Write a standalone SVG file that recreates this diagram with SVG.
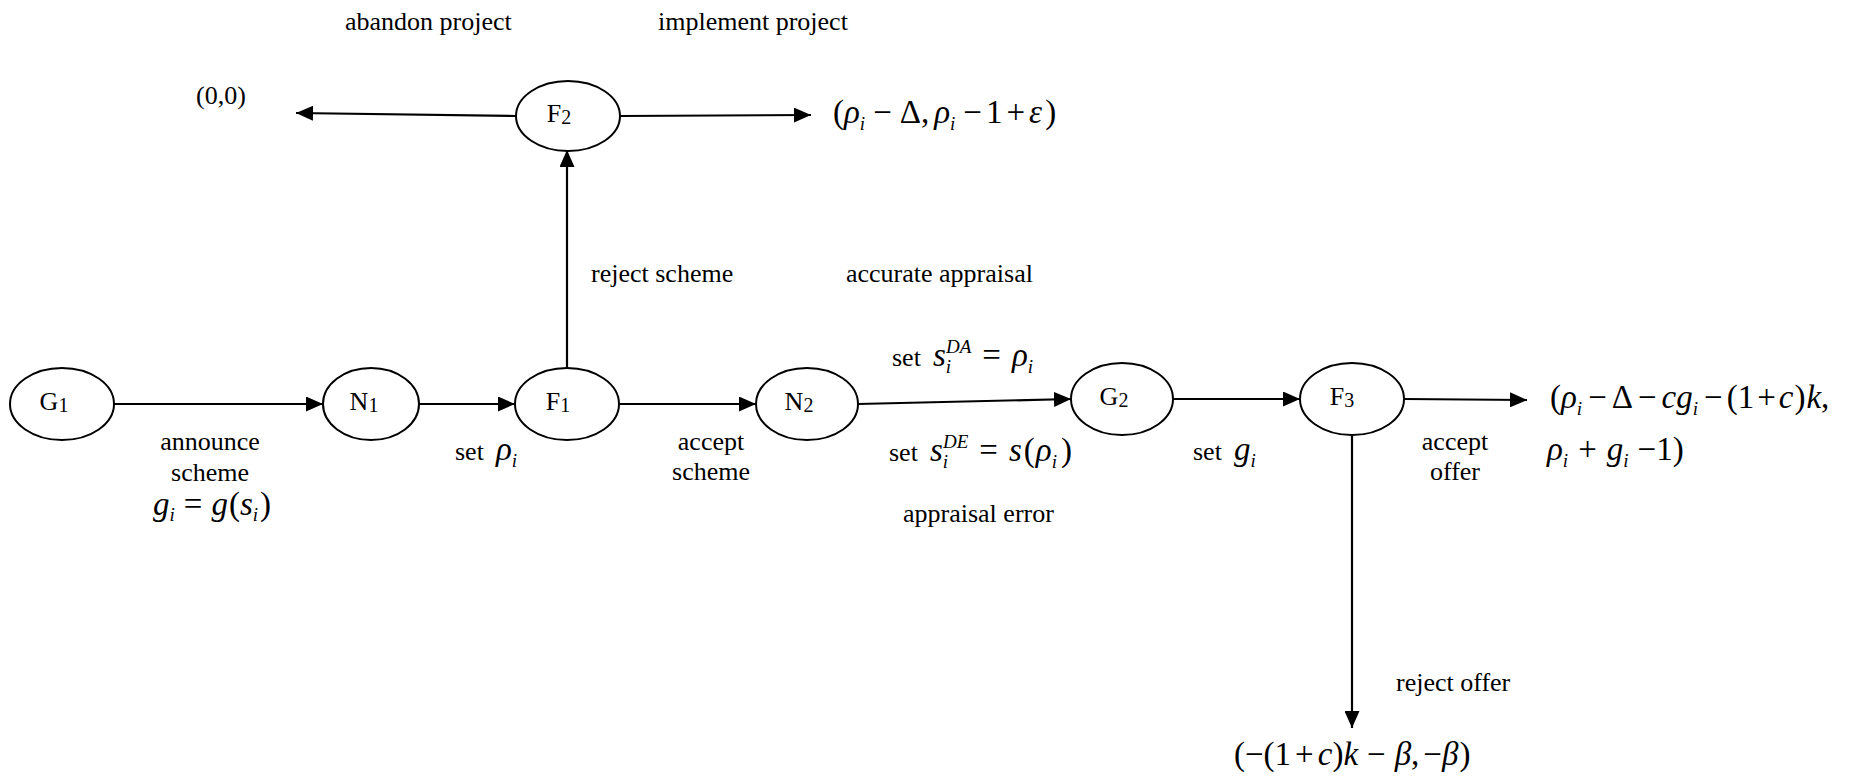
<svg xmlns="http://www.w3.org/2000/svg" width="1858" height="777" viewBox="0 0 1858 777">
<style>
.t{font-family:"Liberation Serif","Times New Roman",serif;font-size:26px;fill:#000}
.m{font-family:"Liberation Serif","Times New Roman",serif;font-size:33px;fill:#000}
.it{font-style:italic}
.sb{font-size:19px}
.ns{font-size:20px}
.node ellipse{fill:#fff;stroke:#000;stroke-width:2}
.edge{stroke:#000;stroke-width:2.2;fill:none;marker-end:url(#ah)}
</style>
<defs>
<marker id="ah" markerUnits="userSpaceOnUse" markerWidth="17" markerHeight="15" refX="17" refY="7.5" orient="auto">
<path d="M0,0 L17,7.5 L0,15 z" fill="#000"/>
</marker>
</defs>

<g id="connectors">
<line class="edge" x1="114" y1="404" x2="323" y2="404"/>
<line class="edge" x1="419" y1="404" x2="515" y2="404"/>
<line class="edge" x1="619" y1="404" x2="756" y2="404"/>
<line class="edge" x1="858" y1="404" x2="1071" y2="399"/>
<line class="edge" x1="1173" y1="399" x2="1300" y2="399"/>
<line class="edge" x1="1404" y1="399" x2="1527" y2="400"/>
<line class="edge" x1="567" y1="368" x2="567" y2="150"/>
<line class="edge" x1="516" y1="116" x2="296" y2="113"/>
<line class="edge" x1="620" y1="116" x2="811" y2="115"/>
<line class="edge" x1="1352" y1="435" x2="1352" y2="728"/>
</g>

<g id="G1" class="node"><ellipse cx="62" cy="404" rx="52" ry="36"/><text class="t" x="54" y="410" text-anchor="middle">G<tspan class="ns" dy="2">1</tspan></text></g>
<g id="N1" class="node"><ellipse cx="371" cy="404" rx="48" ry="36"/><text class="t" x="364" y="410" text-anchor="middle">N<tspan class="ns" dy="2">1</tspan></text></g>
<g id="F1" class="node"><ellipse cx="567" cy="404" rx="52" ry="36"/><text class="t" x="558" y="410" text-anchor="middle">F<tspan class="ns" dy="2">1</tspan></text></g>
<g id="F2" class="node"><ellipse cx="568" cy="116" rx="52" ry="35"/><text class="t" x="559" y="122" text-anchor="middle">F<tspan class="ns" dy="2">2</tspan></text></g>
<g id="N2" class="node"><ellipse cx="807" cy="404" rx="51" ry="36"/><text class="t" x="799" y="410" text-anchor="middle">N<tspan class="ns" dy="2">2</tspan></text></g>
<g id="G2" class="node"><ellipse cx="1122" cy="399" rx="51" ry="36"/><text class="t" x="1114" y="405" text-anchor="middle">G<tspan class="ns" dy="2">2</tspan></text></g>
<g id="F3" class="node"><ellipse cx="1352" cy="399" rx="52" ry="36"/><text class="t" x="1342" y="405" text-anchor="middle">F<tspan class="ns" dy="2">3</tspan></text></g>

<g id="labels">
<text class="t" x="345" y="30">abandon project</text>
<text class="t" x="658" y="30">implement project</text>
<text class="t" x="196" y="104">(0,0)</text>
<text class="t" x="591" y="282">reject scheme</text>
<text class="t" x="846" y="282">accurate appraisal</text>
<text class="t" x="210" y="450" text-anchor="middle">announce</text>
<text class="t" x="210" y="481" text-anchor="middle">scheme</text>
<text class="t" x="711" y="450" text-anchor="middle">accept</text>
<text class="t" x="711" y="480" text-anchor="middle">scheme</text>
<text class="t" x="903" y="522">appraisal error</text>
<text class="t" x="1455" y="450" text-anchor="middle">accept</text>
<text class="t" x="1455" y="480" text-anchor="middle">offer</text>
<text class="t" x="1396" y="691">reject offer</text>

<text class="m" x="153" y="515"><tspan class="it">g</tspan><tspan class="sb it" dy="6">i</tspan><tspan dy="-6" dx="9">=</tspan><tspan class="it" dx="9">g</tspan><tspan dx="1">(</tspan><tspan class="it">s</tspan><tspan class="sb it" dy="6">i</tspan><tspan dy="-6" dx="2">)</tspan></text>

<text class="t" x="455" y="460">set<tspan class="m it" dx="12">ρ</tspan><tspan class="sb it" dy="7">i</tspan></text>

<text class="t" x="892" y="366">set<tspan class="m it" dx="12">s</tspan><tspan class="sb it" dy="7">i</tspan><tspan class="sb it" dx="-5" dy="-20">DA</tspan><tspan class="m" dx="11" dy="13">=</tspan><tspan class="m it" dx="11">ρ</tspan><tspan class="sb it" dy="7">i</tspan></text>

<text class="t" x="889" y="461">set<tspan class="m it" dx="12">s</tspan><tspan class="sb it" dy="7">i</tspan><tspan class="sb it" dx="-5" dy="-20">DE</tspan><tspan class="m" dx="11" dy="13">=</tspan><tspan class="m it" dx="11">s</tspan><tspan class="m" dx="2">(</tspan><tspan class="m it" dx="1">ρ</tspan><tspan class="sb it" dy="7">i</tspan><tspan class="m" dy="-7" dx="4">)</tspan></text>

<text class="t" x="1193" y="460">set<tspan class="m it" dx="12">g</tspan><tspan class="sb it" dy="7">i</tspan></text>

<text class="m" x="833" y="123">(<tspan class="it">ρ</tspan><tspan class="sb it" dy="7">i</tspan><tspan dy="-7" dx="8">−</tspan><tspan dx="8">Δ,</tspan><tspan class="it" dx="5">ρ</tspan><tspan class="sb it" dy="7">i</tspan><tspan dy="-7" dx="8">−</tspan><tspan dx="4">1</tspan><tspan dx="4">+</tspan><tspan class="it" dx="4">ε</tspan><tspan dx="3">)</tspan></text>

<text class="m" x="1550" y="408">(<tspan class="it">ρ</tspan><tspan class="sb it" dy="7">i</tspan><tspan dy="-7" dx="6">−</tspan><tspan dx="5">Δ</tspan><tspan dx="5">−</tspan><tspan class="it" dx="5">cg</tspan><tspan class="sb it" dy="7">i</tspan><tspan dy="-7" dx="6">−</tspan><tspan dx="4">(1</tspan><tspan dx="3">+</tspan><tspan class="it" dx="3">c</tspan><tspan dx="1">)</tspan><tspan class="it" dx="1">k</tspan>,</text>

<text class="m" x="1547" y="460"><tspan class="it">ρ</tspan><tspan class="sb it" dy="7">i</tspan><tspan dy="-7" dx="10">+</tspan><tspan class="it" dx="10">g</tspan><tspan class="sb it" dy="7">i</tspan><tspan dy="-7" dx="9">−</tspan>1)</text>

<text class="m" x="1234" y="765">(−(1<tspan dx="4">+</tspan><tspan class="it" dx="4">c</tspan>)<tspan class="it">k</tspan><tspan dx="9">−</tspan><tspan class="it" dx="9">β</tspan>,<tspan dx="4">−</tspan><tspan class="it">β</tspan><tspan dx="1">)</tspan></text>
</g>
</svg>
